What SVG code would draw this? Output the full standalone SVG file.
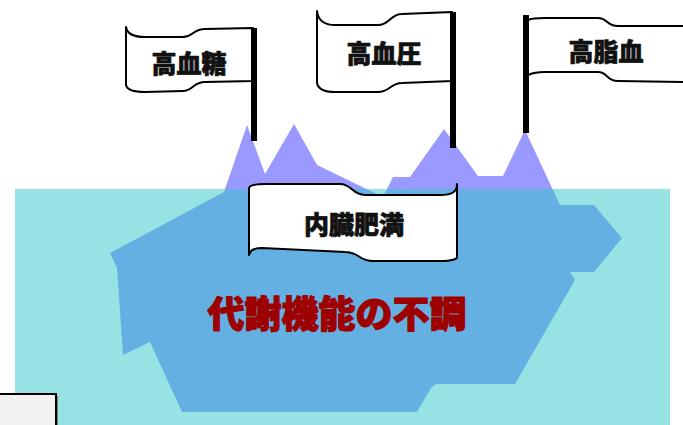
<svg xmlns="http://www.w3.org/2000/svg" width="683" height="425" viewBox="0 0 683 425">
  <style>
    .banner { fill: #ffffff; stroke: #000000; stroke-width: 2; stroke-linejoin: round; }
    .pole { fill: #000000; }
    .label { font-family: "Noto Sans CJK JP", "Noto Sans CJK SC", sans-serif; font-weight: 900; font-size: 25px; fill: #111111; stroke: #111111; stroke-width: 0.7; stroke-linejoin: round; text-anchor: middle; }
    .title { font-family: "Noto Sans CJK JP", "Noto Sans CJK SC", sans-serif; font-weight: 900; font-size: 37px; fill: #9E0000; stroke: #9E0000; stroke-width: 1.1; stroke-linejoin: round; text-anchor: middle; }
  </style>

  <!-- white page -->
  <rect x="0" y="0" width="683" height="425" fill="#ffffff"/>

  <!-- iceberg: one solid body; the sea tints the submerged part -->
  <g id="iceberg">
    <polygon fill="#9999FF" points="110,253 224,192 247,125 265,174 294,124 317,165 383,197 393,177 410,177 444,129 478,176 503,176 525,130 560,205 594,205 622,238 594,272 570,272 575,280 515,384 436,384 431,388 417,412 182,412 150,342 123,355 117,268"/>
  </g>

  <!-- sea -->
  <g id="sea">
    <rect x="15" y="189" width="655" height="236" fill="#2FC7C7" fill-opacity="0.5"/>
  </g>

  <!-- banner on the waterline -->
  <g id="node-naizou">
    <path class="banner" d="M249,188 C250,185 255,184 265,184 L340,184 C352,184 352,195 365,195 L440,195 C452,195 457,192 457,184 L457,257 C457,259 452,261 440,261 L373,261 C358,261 360,252 345,252 L262,248 C255,248 250,250 249,255 Z"/>
    <text class="label" x="354" y="234">内臓肥満</text>
  </g>

  <!-- caption inside the iceberg -->
  <g id="node-taisha">
    <text class="title" x="337" y="328">代謝機能の不調</text>
  </g>

  <!-- flag: high blood sugar -->
  <g id="node-kouketsutou">
    <path class="banner" d="M126,27 C127,34 133,37 145,37 L183,37 C193,37 193,29 205,29 L253,28 L253,81 L205,82 C193,82 193,91 183,91 L145,92 C133,92 127,90 126,85 Z"/>
    <text class="label" x="189" y="73">高血糖</text>
    <rect class="pole" x="251" y="28" width="6" height="113"/>
  </g>

  <!-- flag: high blood pressure -->
  <g id="node-kouketsuatsu">
    <path class="banner" d="M317,11 C318,20 323,25 335,25 L378,25 C390,25 390,14 402,14 L452,12 L452,81 L402,83 C390,83 390,92 378,92 L335,92 C323,92 318,88 317,83 Z"/>
    <text class="label" x="384" y="63">高血圧</text>
    <rect class="pole" x="450" y="12" width="6" height="136"/>
  </g>

  <!-- flag: dyslipidemia -->
  <g id="node-koushiketsu">
    <path class="banner" d="M528,20 C532,18 536,18 545,18 L598,18 C608,18 606,26 618,26 L690,26 L690,82 L618,81 C606,81 608,72 598,72 L545,72 C536,72 532,73 528,75 Z"/>
    <text class="label" x="606" y="61">高脂血</text>
    <rect class="pole" x="523" y="15" width="6" height="118"/>
  </g>

  <!-- partial box at the lower left -->
  <g id="node-box">
    <rect x="-2" y="396" width="60" height="40" fill="#7f7f7f"/>
    <rect x="-3" y="394" width="59" height="40" fill="#F2F2F2" stroke="#000000" stroke-width="2"/>
  </g>

  <!-- no connectors in this drawing -->
  <g id="connectors"/>
</svg>
